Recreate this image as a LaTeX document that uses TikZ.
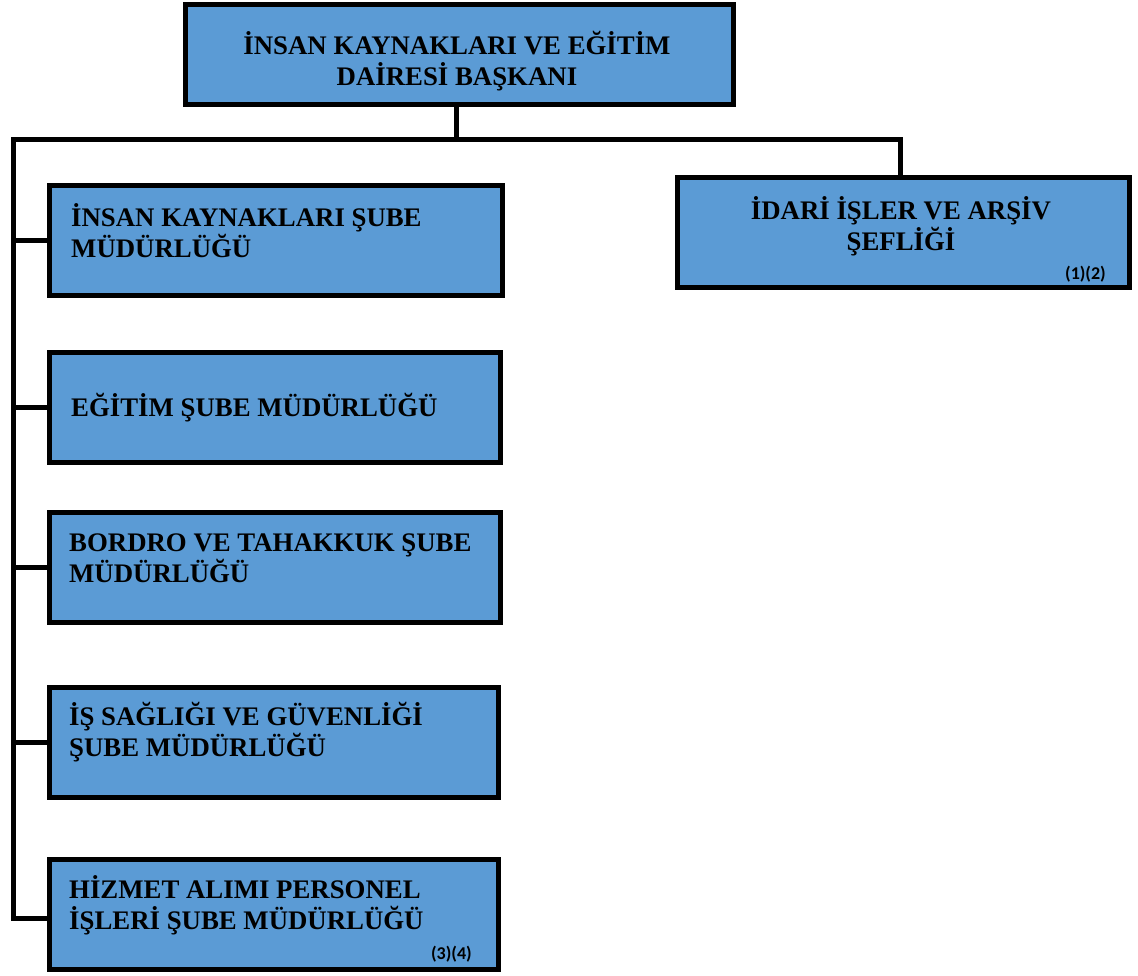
\documentclass[tikz,border=0pt]{standalone}
\usepackage{fontspec}
\setmainfont{Liberation Serif}
\newfontfamily\smallsans{Carlito}
\usetikzlibrary{calc}
\definecolor{boxblue}{RGB}{91,155,213}
\tikzset{
  box/.style={draw=black, fill=boxblue, line width=5pt, rectangle, inner sep=0pt, anchor=north west},
  conn/.style={draw=black, line width=5pt, line join=miter},
  txt/.style={font=\fontsize{26.8}{31}\selectfont\bfseries, inner sep=0pt},
  ref/.style={font=\smallsans\fontsize{18}{20}\selectfont\bfseries, inner sep=0pt}
}
\begin{document}
\begin{tikzpicture}[x=1pt,y=-1pt]
\useasboundingbox (0,0) rectangle (1138,975);
% boxes
\node[box, minimum width=548, minimum height=100] (top) at (183,2) {};
\node[box, minimum width=452, minimum height=110] (r) at (675,175) {};
\node[box, minimum width=453, minimum height=110] (b1) at (47,183) {};
\node[box, minimum width=451, minimum height=110] (b2) at (47,350) {};
\node[box, minimum width=451, minimum height=110] (b3) at (47,510) {};
\node[box, minimum width=449, minimum height=110] (b4) at (47,685) {};
\node[box, minimum width=449, minimum height=110] (b5) at (47,857) {};
% texts
\node[txt, align=center] (ttop) at (457,61) {İNSAN KAYNAKLARI VE EĞİTİM\\DAİRESİ BAŞKANI};
\node[txt, align=center] (tr) at (901,226) {İDARİ İŞLER VE ARŞİV\\ŞEFLİĞİ};
\node[ref, anchor=base east] (rr) at (1106,279) {(1)(2)};
\node[txt, align=left, anchor=west] (t1) at (71,231) {İNSAN KAYNAKLARI ŞUBE\\MÜDÜRLÜĞÜ};
\node[txt, align=left, anchor=west] (t2) at (71,408) {EĞİTİM ŞUBE MÜDÜRLÜĞÜ};
\node[txt, align=left, anchor=west] (t3) at (69,558) {BORDRO VE TAHAKKUK ŞUBE\\MÜDÜRLÜĞÜ};
\node[txt, align=left, anchor=west] (t4) at (69,732) {İŞ SAĞLIĞI VE GÜVENLİĞİ\\ŞUBE MÜDÜRLÜĞÜ};
\node[txt, align=left, anchor=west] (t5) at (69,905) {HİZMET ALIMI PERSONEL\\İŞLERİ ŞUBE MÜDÜRLÜĞÜ};
\node[ref, anchor=base east] (r5) at (472,959) {(3)(4)};
% connectors
\coordinate (busL) at (13.5,139.5);
\coordinate (busR) at (900,139.5);
\coordinate (stem) at (456,139.5);
\coordinate (corner) at (13.5,918);
\draw[conn] (stem |- top.south) -- (stem);
\draw[conn] (busR |- r.north) -- (busR) -- (busL) -- (corner) -- (corner -| b5.west);
\draw[conn] (busL |- b1.west) -- (b1.west);
\draw[conn] (busL |- b2.west) -- (b2.west);
\draw[conn] (busL |- b3.west) -- (b3.west);
\draw[conn] (busL |- b4.west) -- (b4.west);
\end{tikzpicture}
\end{document}
